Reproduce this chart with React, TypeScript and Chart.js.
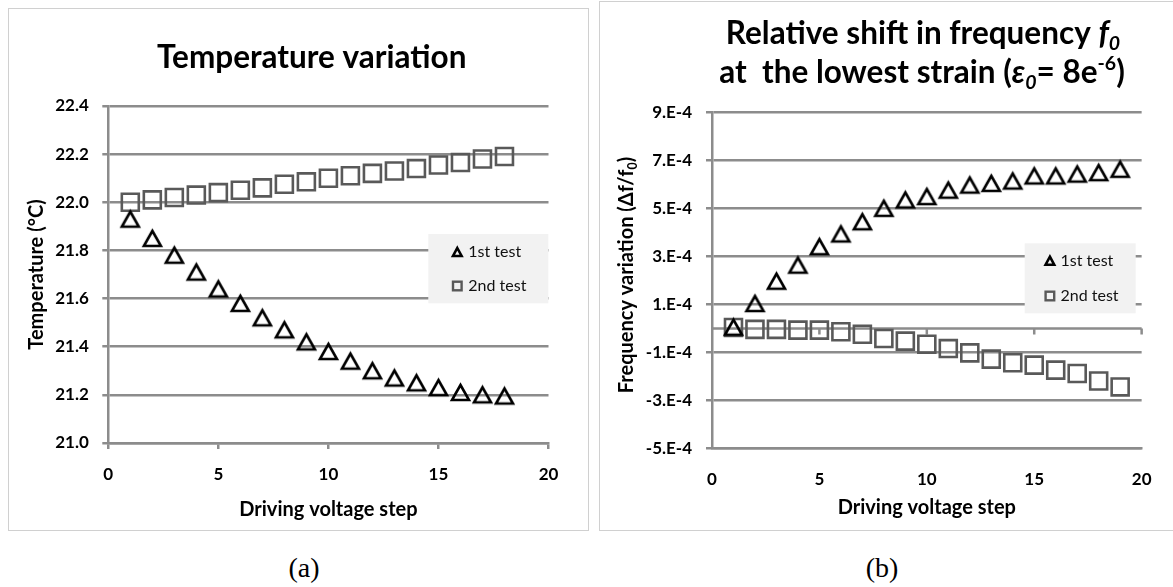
import React, { useEffect, useRef } from 'react';
import { Chart, registerables } from 'chart.js';

Chart.register(...registerables);

const FONT = "Lato, 'DejaVu Sans', sans-serif";
const GRID_COLOR = '#8c8c8c';
const TRI_COLOR = '#000000';
const SQ_COLOR = '#595959';
const LEGEND_BG = '#f2f2f2';

// ---------------- data ----------------
const seriesLabels = ['1st test', '2nd test'];
const xTicks = [0, 5, 10, 15, 20];
const xTitle = 'Driving voltage step';

// (a) Temperature variation
const stepsA = [1, 2, 3, 4, 5, 6, 7, 8, 9, 10, 11, 12, 13, 14, 15, 16, 17, 18];
const tempTest1 = [21.93, 21.85, 21.78, 21.71, 21.64, 21.58, 21.52, 21.47, 21.42, 21.38, 21.34, 21.30, 21.27, 21.25, 21.23, 21.21, 21.20, 21.195];
const tempTest2 = [22.00, 22.01, 22.02, 22.03, 22.04, 22.05, 22.06, 22.075, 22.085, 22.10, 22.11, 22.12, 22.13, 22.14, 22.155, 22.165, 22.18, 22.19];
const yTicksA = [21.0, 21.2, 21.4, 21.6, 21.8, 22.0, 22.2, 22.4];
const titleA = 'Temperature variation';
const yTitleA = 'Temperature (°C)';

// (b) Relative frequency shift
const stepsB = [1, 2, 3, 4, 5, 6, 7, 8, 9, 10, 11, 12, 13, 14, 15, 16, 17, 18, 19];
const freqTest1 = [0.05e-4, 1.04e-4, 1.97e-4, 2.64e-4, 3.41e-4, 3.94e-4, 4.45e-4, 5.01e-4, 5.36e-4, 5.50e-4, 5.77e-4, 5.98e-4, 6.05e-4, 6.15e-4, 6.36e-4, 6.36e-4, 6.44e-4, 6.50e-4, 6.64e-4];
const freqTest2 = [0.04e-4, -0.04e-4, -0.04e-4, -0.07e-4, -0.07e-4, -0.14e-4, -0.24e-4, -0.42e-4, -0.53e-4, -0.66e-4, -0.84e-4, -1.02e-4, -1.28e-4, -1.43e-4, -1.53e-4, -1.74e-4, -1.88e-4, -2.19e-4, -2.44e-4];
const yTicksB = [-5e-4, -3e-4, -1e-4, 1e-4, 3e-4, 5e-4, 7e-4, 9e-4];

type Seg = { t: string; it?: boolean; s?: number; dy?: number };
const titleB1: Seg[] = [{ t: 'Relative shift in frequency ' }, { t: 'f', it: true }, { t: '0', it: true, s: 0.62, dy: 0.3 }];
const titleB2: Seg[] = [
  { t: 'at  the lowest strain (' },
  { t: 'ε', it: true },
  { t: '0', it: true, s: 0.62, dy: 0.3 },
  { t: '= 8e' },
  { t: '-6', s: 0.62, dy: -0.3 },
  { t: ')' },
];
const yTitleB: Seg[] = [{ t: 'Frequency variation (Δf/f' }, { t: '0', s: 0.62, dy: 0.3 }, { t: ')' }];

// ---------------- helpers ----------------
function drawRich(ctx: CanvasRenderingContext2D, segs: Seg[], cx: number, cy: number, size: number, rot = 0) {
  ctx.save();
  ctx.translate(cx, cy);
  if (rot) ctx.rotate(rot);
  ctx.fillStyle = '#000';
  ctx.textBaseline = 'middle';
  ctx.textAlign = 'left';
  const fonts = segs.map((g) => `${g.it ? 'italic ' : ''}bold ${size * (g.s ?? 1)}px ${FONT}`);
  const widths = segs.map((g, i) => {
    ctx.font = fonts[i];
    return ctx.measureText(g.t).width;
  });
  const total = widths.reduce((a, b) => a + b, 0);
  let x = -total / 2;
  segs.forEach((g, i) => {
    ctx.font = fonts[i];
    ctx.fillText(g.t, x, (g.dy ?? 0) * size);
    x += widths[i];
  });
  ctx.restore();
}

function makeTriangle(w: number, h: number, lw: number) {
  const pad = 4;
  const c = document.createElement('canvas');
  c.width = w + pad * 2;
  c.height = h + pad * 2;
  const g = c.getContext('2d')!;
  g.lineWidth = lw;
  g.strokeStyle = TRI_COLOR;
  g.lineJoin = 'miter';
  g.beginPath();
  g.moveTo(pad + w / 2, pad);
  g.lineTo(pad + w, pad + h);
  g.lineTo(pad, pad + h);
  g.closePath();
  g.stroke();
  return c;
}

function drawLegendTri(ctx: CanvasRenderingContext2D, x: number, y: number) {
  ctx.save();
  ctx.strokeStyle = TRI_COLOR;
  ctx.lineWidth = 2.6;
  ctx.beginPath();
  ctx.moveTo(x, y - 4.3);
  ctx.lineTo(x + 4.3, y + 3.7);
  ctx.lineTo(x - 4.3, y + 3.7);
  ctx.closePath();
  ctx.stroke();
  ctx.restore();
}
function drawLegendSq(ctx: CanvasRenderingContext2D, x: number, y: number) {
  ctx.save();
  ctx.strokeStyle = SQ_COLOR;
  ctx.lineWidth = 2.4;
  ctx.strokeRect(x - 4.3, y - 4.3, 8.6, 8.6);
  ctx.restore();
}

function legendPlugin(box: { x: number; y: number; w: number; h: number }, rows: number[], markerX: number, textX: number) {
  return {
    id: 'customLegend',
    afterDraw(chart: any) {
      const ctx = chart.ctx as CanvasRenderingContext2D;
      ctx.save();
      ctx.fillStyle = LEGEND_BG;
      ctx.fillRect(box.x, box.y, box.w, box.h);
      ctx.font = `16px ${FONT}`;
      ctx.fillStyle = '#111';
      ctx.textBaseline = 'middle';
      ctx.textAlign = 'left';
      chart.data.datasets.forEach((ds: any, i: number) => {
        if (i === 0) drawLegendTri(ctx, markerX, rows[i]);
        else drawLegendSq(ctx, markerX, rows[i]);
        ctx.fillText(ds.label, textX, rows[i]);
      });
      ctx.restore();
    },
  };
}

const tickFont = { family: FONT, size: 17, weight: 'bold' as const };
const axisTitleFont = { family: FONT, size: 20, weight: 'bold' as const };
const TITLE_SIZE = 31.5;

function xScale(tickPad: number, drawTicks: boolean, titlePadBottom: number) {
  return {
    type: 'linear',
    min: 0,
    max: 20,
    afterBuildTicks: (s: any) => {
      s.ticks = xTicks.map((v) => ({ value: v }));
    },
    afterFit: (s: any) => {
      s.height = 80;
    },
    ticks: { font: tickFont, color: '#000', padding: tickPad, maxRotation: 0, callback: (v: any) => String(v) },
    grid: { drawOnChartArea: false, drawTicks, tickLength: 6, color: GRID_COLOR, lineWidth: 2.5 },
    border: { display: true, color: GRID_COLOR, width: 2.5 },
    title: { display: true, text: xTitle, font: axisTitleFont, color: '#000', padding: { top: 0, bottom: titlePadBottom } },
  };
}

function configA() {
  const tri = makeTriangle(17, 15, 2.6);
  return {
    type: 'scatter',
    data: {
      datasets: [
        {
          label: seriesLabels[0],
          data: stepsA.map((x, i) => ({ x, y: tempTest1[i] })),
          pointStyle: tri,
          pointRadius: 10,
          showLine: false,
        },
        {
          label: seriesLabels[1],
          data: stepsA.map((x, i) => ({ x, y: tempTest2[i] })),
          pointStyle: 'rect',
          pointRadius: 12,
          pointBorderWidth: 2.6,
          pointBorderColor: SQ_COLOR,
          pointBackgroundColor: 'rgba(0,0,0,0)',
          showLine: false,
        },
      ],
    },
    options: {
      responsive: false,
      animation: false,
      devicePixelRatio: 1,
      events: [],
      layout: { padding: { left: 10, right: 38.5, top: 97, bottom: 6 } },
      plugins: { legend: { display: false }, title: { display: false }, tooltip: { enabled: false } },
      scales: {
        x: xScale(15.8, true, 1),
        y: {
          type: 'linear',
          min: 21.0,
          max: 22.4,
          afterBuildTicks: (s: any) => {
            s.ticks = yTicksA.map((v) => ({ value: v }));
          },
          afterFit: (s: any) => {
            s.width = 89.3;
          },
          ticks: { font: tickFont, color: '#000', padding: 13.5, callback: (v: any) => Number(v).toFixed(1) },
          grid: { color: GRID_COLOR, lineWidth: 2.5, tickLength: 6, drawTicks: true },
          border: { display: true, color: GRID_COLOR, width: 2.5 },
          title: { display: true, text: yTitleA, font: axisTitleFont, color: '#000', padding: { top: 6, bottom: 0 } },
        },
      },
    },
    plugins: [
      {
        id: 'titleA',
        afterDraw(chart: any) {
          drawRich(chart.ctx, [{ t: titleA }], 302.7, 49, TITLE_SIZE);
        },
      },
      legendPlugin({ x: 419.3, y: 225, w: 120, h: 69.3 }, [243.3, 277], 448.3, 459.3),
    ],
  };
}

function configB() {
  const tri = makeTriangle(17, 15, 2.6);
  return {
    type: 'scatter',
    data: {
      datasets: [
        {
          label: seriesLabels[0],
          data: stepsB.map((x, i) => ({ x, y: freqTest1[i] })),
          pointStyle: tri,
          pointRadius: 10,
          showLine: false,
        },
        {
          label: seriesLabels[1],
          data: stepsB.map((x, i) => ({ x, y: freqTest2[i] })),
          pointStyle: 'rect',
          pointRadius: 12,
          pointBorderWidth: 2.6,
          pointBorderColor: SQ_COLOR,
          pointBackgroundColor: 'rgba(0,0,0,0)',
          showLine: false,
        },
      ],
    },
    options: {
      responsive: false,
      animation: false,
      devicePixelRatio: 1,
      events: [],
      layout: { padding: { left: 10, right: 31, top: 110.7, bottom: 0.7 } },
      plugins: { legend: { display: false }, title: { display: false }, tooltip: { enabled: false } },
      scales: {
        x: xScale(21.5, false, 8.3),
        y: {
          type: 'linear',
          min: -5e-4,
          max: 9e-4,
          afterBuildTicks: (s: any) => {
            s.ticks = yTicksB.map((v) => ({ value: v }));
          },
          afterFit: (s: any) => {
            s.width = 102;
          },
          ticks: {
            font: tickFont,
            color: '#000',
            padding: 14,
            callback: (v: any) => `${Math.round(Number(v) * 1e4)}.E-4`,
          },
          grid: { color: GRID_COLOR, lineWidth: 2.5, tickLength: 6, drawTicks: true },
          border: { display: true, color: GRID_COLOR, width: 2.5 },
          title: { display: false },
        },
      },
    },
    plugins: [
      {
        id: 'zeroAxis',
        beforeDatasetsDraw(chart: any) {
          const { ctx, chartArea, scales } = chart;
          const y0 = scales.y.getPixelForValue(0);
          ctx.save();
          ctx.strokeStyle = GRID_COLOR;
          ctx.lineWidth = 2.5;
          ctx.beginPath();
          ctx.moveTo(chartArea.left, y0);
          ctx.lineTo(chartArea.right, y0);
          scales.x.ticks.forEach((t: any) => {
            if (t.value === 0) return;
            const px = scales.x.getPixelForValue(t.value);
            ctx.moveTo(px, y0);
            ctx.lineTo(px, y0 + 6);
          });
          ctx.stroke();
          ctx.restore();
        },
      },
      {
        id: 'titlesB',
        afterDraw(chart: any) {
          drawRich(chart.ctx, titleB1, 323, 32, TITLE_SIZE);
          drawRich(chart.ctx, titleB2, 322, 71, TITLE_SIZE);
          drawRich(chart.ctx, yTitleB, 26.5, 273, 20, -Math.PI / 2);
        },
      },
      legendPlugin({ x: 424.7, y: 241.3, w: 111, h: 70 }, [259, 294], 449.9, 460.5),
    ],
  };
}

function ChartCanvas({ left, top, width, height, make }: { left: number; top: number; width: number; height: number; make: () => any }) {
  const ref = useRef<HTMLCanvasElement>(null);
  useEffect(() => {
    const chart = new Chart(ref.current as HTMLCanvasElement, make());
    return () => chart.destroy();
  }, []);
  return <canvas ref={ref} width={width} height={height} style={{ position: 'absolute', left, top, width, height }} />;
}

const captionStyle: React.CSSProperties = {
  position: 'absolute',
  top: 568,
  transform: 'translate(-50%, -50%)',
  fontFamily: "'Liberation Serif', 'Times New Roman', serif",
  fontSize: 28,
  color: '#000',
  lineHeight: 1,
  whiteSpace: 'nowrap',
};

export default function App() {
  return (
    <div style={{ position: 'absolute', left: 0, top: 0, width: 1173, height: 587, overflow: 'hidden', background: '#fff' }}>
      <div style={{ position: 'absolute', left: 8, top: 8, width: 581, height: 523, border: '1px solid #d0d0d0', boxSizing: 'border-box' }} />
      <div style={{ position: 'absolute', left: 599, top: 1, width: 620, height: 530, border: '1px solid #d0d0d0', boxSizing: 'border-box' }} />
      <ChartCanvas left={9} top={9} width={578} height={520} make={configA} />
      <ChartCanvas left={600} top={2} width={573} height={527} make={configB} />
      <div style={{ ...captionStyle, left: 304 }}>(a)</div>
      <div style={{ ...captionStyle, left: 882 }}>(b)</div>
    </div>
  );
}
